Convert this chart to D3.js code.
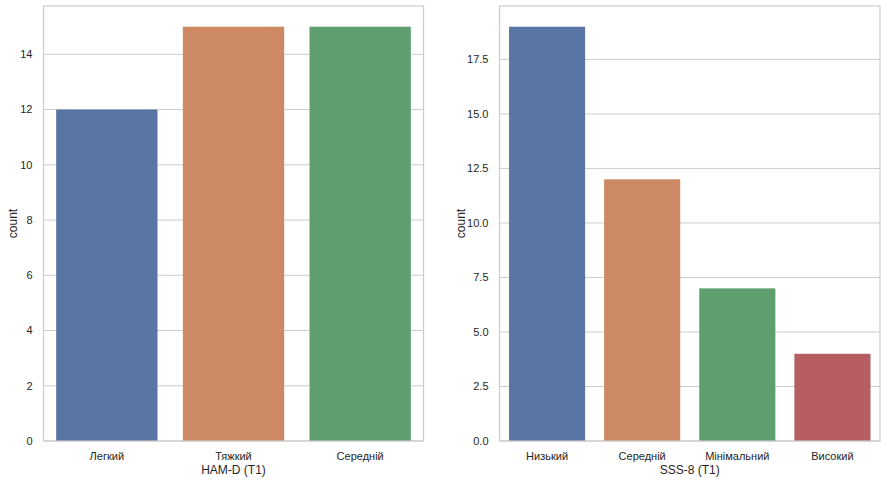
<!DOCTYPE html>
<html><head><meta charset="utf-8">
<script src="https://cdn.jsdelivr.net/npm/d3@7/dist/d3.min.js"></script>
<style>body{margin:0;background:#fff}svg{display:block}text{font-family:"Liberation Sans",Arial,sans-serif;fill:#262626}</style>
</head><body>
<script>
const hamCategories = ["Легкий", "Тяжкий", "Середній"];
const hamCounts = [12, 15, 15];
const hamTicks = [0, 2, 4, 6, 8, 10, 12, 14];
const sssCategories = ["Низький", "Середній", "Мінімальний", "Високий"];
const sssCounts = [19, 12, 7, 4];
const sssTicks = [0, 2.5, 5, 7.5, 10, 12.5, 15, 17.5];
const barColors = ["#5875a4", "#cc8963", "#5f9e6e", "#b55d60"];

const W = 887, H = 482;
const svg = d3.select("body").append("svg").attr("width", W).attr("height", H);

function panel(x0, x1, y0, y1, cats, vals, ticks, fmt, xlabel, ylabelOffset) {
  const g = svg.append("g");
  const x = d3.scaleBand().domain(cats).range([x0, x1]).paddingInner(0.2).paddingOuter(0.1);
  const y = d3.scaleLinear().domain([0, d3.max(vals) * 1.05]).range([y1, y0]);
  g.selectAll("line.grid").data(ticks).join("line")
    .attr("x1", x0).attr("x2", x1).attr("y1", d => y(d)).attr("y2", d => y(d))
    .attr("stroke", "#cccccc").attr("stroke-width", 1);
  g.selectAll("rect").data(cats).join("rect")
    .attr("x", d => x(d)).attr("width", x.bandwidth())
    .attr("y", (d, i) => y(vals[i])).attr("height", (d, i) => y(0) - y(vals[i]))
    .attr("fill", (d, i) => barColors[i]);
  g.append("rect").attr("x", x0).attr("y", y0).attr("width", x1 - x0).attr("height", y1 - y0)
    .attr("fill", "none").attr("stroke", "#cccccc").attr("stroke-width", 1.2);
  g.selectAll("text.yt").data(ticks).join("text")
    .attr("x", x0 - 11).attr("y", d => y(d)).attr("dy", "0.35em")
    .attr("text-anchor", "end").attr("font-size", 11).text(fmt);
  g.selectAll("text.xt").data(cats).join("text")
    .attr("x", d => x(d) + x.bandwidth() / 2).attr("y", y1 + 19)
    .attr("text-anchor", "middle").attr("font-size", 11).text(d => d);
  g.append("text").attr("x", (x0 + x1) / 2).attr("y", y1 + 33)
    .attr("text-anchor", "middle").attr("font-size", 12).text(xlabel);
  g.append("text").attr("transform", `translate(${x0 - ylabelOffset},${(y0 + y1) / 2}) rotate(-90)`)
    .attr("text-anchor", "middle").attr("font-size", 12).text("count");
}

panel(43.5, 423.5, 6, 441, hamCategories, hamCounts, hamTicks, d => d3.format("d")(d), "HAM-D (T1)", 27);
panel(499.5, 880, 6, 441, sssCategories, sssCounts, sssTicks, d => d3.format(".1f")(d), "SSS-8 (T1)", 35);
</script>
</body></html>
